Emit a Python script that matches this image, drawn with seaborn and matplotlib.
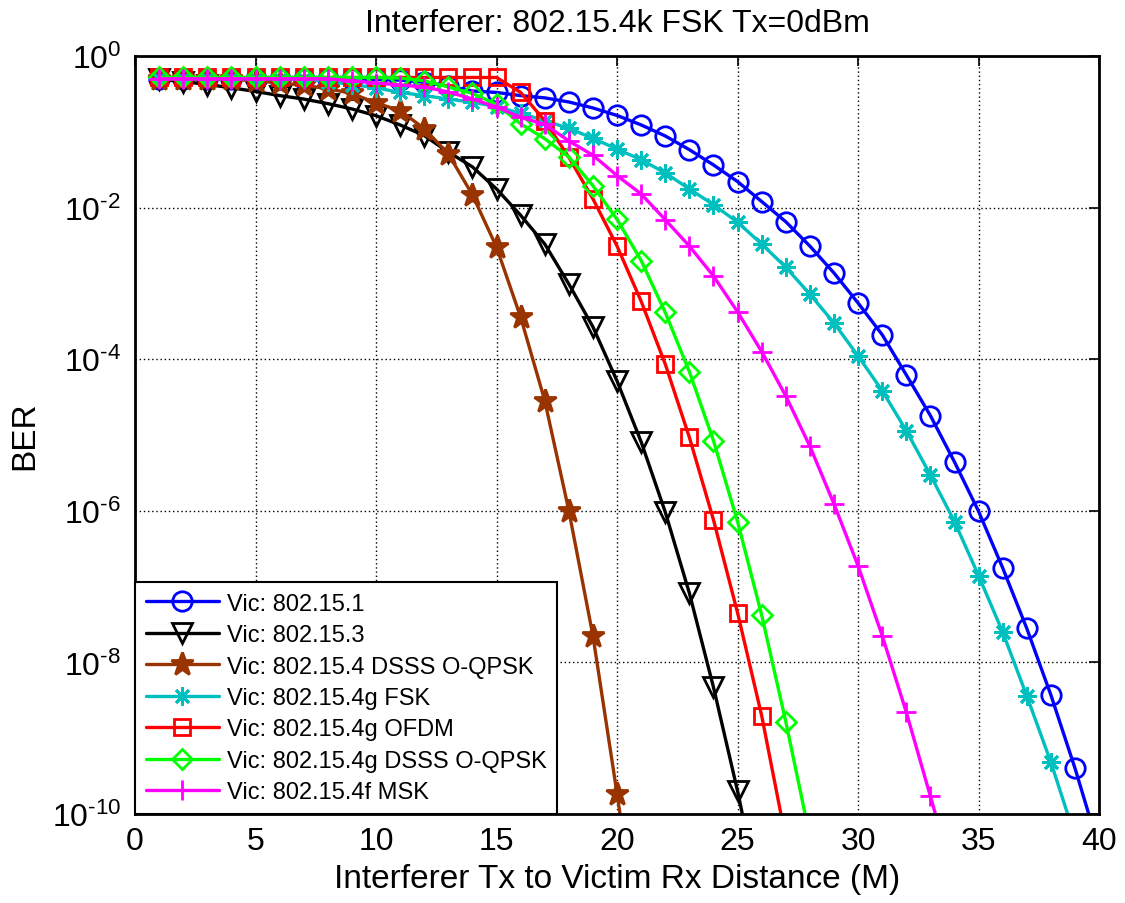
import numpy as np
import seaborn as sns
import matplotlib.pyplot as plt
from matplotlib.ticker import FixedLocator, FixedFormatter, NullLocator

# distance (m), one point per metre
dist = list(range(1, 41))

# BER curves
ber_15_1 = [0.50, 0.50, 0.50, 0.50, 0.50, 0.50, 0.50, 0.50, 0.50, 0.49, 0.48, 0.45,
            0.40, 0.345, 0.33, 0.30, 0.28, 0.247, 0.206, 0.164, 0.123, 0.088, 0.058,
            0.0365, 0.022, 0.012, 0.0065, 0.0031, 1.37e-3, 5.5e-4, 2.1e-4, 6.2e-5,
            1.8e-5, 4.4e-6, 9.8e-7, 1.76e-7, 2.8e-8, 3.7e-9, 4.0e-10, 3.5e-11]
ber_15_3 = [0.49, 0.46, 0.42, 0.38, 0.34, 0.30, 0.27, 0.235, 0.20, 0.163, 0.123,
            0.089, 0.054, 0.0344, 0.0176, 0.0079, 0.0033, 9.8e-4, 2.66e-4, 5.15e-5,
            8.1e-6, 9.6e-7, 8.2e-8, 4.7e-9, 2.0e-10, 6e-12]
ber_15_4 = [0.49, 0.49, 0.49, 0.49, 0.47, 0.44, 0.41, 0.37, 0.32, 0.24, 0.19, 0.11,
            0.051, 0.0147, 3.0e-3, 3.57e-4, 2.84e-5, 1.0e-6, 2.23e-8, 1.84e-10, 1.3e-12]
ber_15_4g_fsk = [0.50, 0.50, 0.50, 0.50, 0.50, 0.50, 0.50, 0.46, 0.42, 0.38, 0.33,
                 0.30, 0.27, 0.245, 0.215, 0.175, 0.14, 0.111, 0.082, 0.059, 0.0428,
                 0.0286, 0.0176, 0.0109, 6.4e-3, 3.3e-3, 1.63e-3, 7.2e-4, 3.0e-4,
                 1.1e-4, 3.84e-5, 1.14e-5, 2.96e-6, 7.2e-7, 1.39e-7, 2.5e-8, 3.6e-9,
                 4.8e-10, 5e-11]
ber_15_4g_ofdm = [0.52, 0.52, 0.52, 0.52, 0.52, 0.52, 0.52, 0.52, 0.52, 0.52, 0.52,
                  0.52, 0.52, 0.52, 0.52, 0.33, 0.14, 0.046, 0.013, 3.1e-3, 5.8e-4,
                  8.6e-5, 9.3e-6, 7.6e-7, 4.5e-8, 1.98e-9, 4.7e-11]
ber_15_4g_dsss = [0.52, 0.52, 0.52, 0.52, 0.52, 0.52, 0.52, 0.52, 0.52, 0.52, 0.51,
                  0.47, 0.39, 0.32, 0.23, 0.127, 0.081, 0.0465, 0.0194, 6.96e-3,
                  2.0e-3, 4.13e-4, 6.84e-5, 8.4e-6, 7.2e-7, 4.2e-8, 1.65e-9, 5e-11]
ber_15_4f_msk = [0.50, 0.50, 0.50, 0.50, 0.50, 0.50, 0.50, 0.50, 0.47, 0.44, 0.414,
                 0.39, 0.335, 0.27, 0.212, 0.155, 0.125, 0.0757, 0.049, 0.0264,
                 0.0151, 6.9e-3, 3.1e-3, 1.25e-3, 4.2e-4, 1.26e-4, 3.27e-5, 7.1e-6,
                 1.23e-6, 1.87e-7, 2.25e-8, 2.2e-9, 1.71e-10, 1.3e-11]

labels = ["Vic: 802.15.1", "Vic: 802.15.3", "Vic: 802.15.4 DSSS O-QPSK",
          "Vic: 802.15.4g FSK", "Vic: 802.15.4g OFDM", "Vic: 802.15.4g DSSS O-QPSK",
          "Vic: 802.15.4f MSK"]
series = [ber_15_1, ber_15_3, ber_15_4, ber_15_4g_fsk, ber_15_4g_ofdm,
          ber_15_4g_dsss, ber_15_4f_msk]

colors = ["#0000ff", "#000000", "#993300", "#00bfbf", "#ff0000", "#00ff00", "#ff00ff"]
markers = ["o", "v", "*", (8, 2, 0), "s", "D", "+"]
msizes = [14, 15, 17, 13, 11.5, 10, 14]
filled = [False, False, True, False, False, False, False]

yticks = [1e0, 1e-2, 1e-4, 1e-6, 1e-8, 1e-10]
ytick_labels = [r"$\mathregular{10^{0}}$", r"$\mathregular{10^{\text{-}2}}$",
                r"$\mathregular{10^{\text{-}4}}$", r"$\mathregular{10^{\text{-}6}}$",
                r"$\mathregular{10^{\text{-}8}}$", r"$\mathregular{10^{\text{-}10}}$"]

sns.set_theme(style="white")
plt.rcParams["font.family"] = ["Liberation Sans", "DejaVu Sans"]
plt.rcParams["mathtext.fontset"] = "custom"
plt.rcParams["mathtext.rm"] = "Liberation Sans"
plt.rcParams["mathtext.it"] = "Liberation Sans:italic"
plt.rcParams["text.color"] = "black"
plt.rcParams["axes.labelcolor"] = "black"

fig = plt.figure(figsize=(11.25, 9.04), dpi=100)
ax = fig.add_axes([0.12, 0.0985, 0.857, 0.8385])

for ber, lab, c, m, ms, f in zip(series, labels, colors, markers, msizes, filled):
    sns.lineplot(x=dist[:len(ber)], y=ber, ax=ax, color=c, marker=m, markersize=ms,
                 markerfacecolor=c if f else "none", markeredgecolor=c,
                 markeredgewidth=2, linewidth=2.4, label=lab, errorbar=None,
                 estimator=None)

ax.set_yscale("log")
ax.set_xlim(0, 40)
ax.set_ylim(1e-10, 1)
ax.set_xticks(range(0, 41, 5))
ax.yaxis.set_major_locator(FixedLocator(yticks))
ax.yaxis.set_major_formatter(FixedFormatter(ytick_labels))
ax.yaxis.set_minor_locator(NullLocator())
ax.tick_params(axis="both", which="major", direction="in", length=7, width=1.2,
               top=True, right=True, labelsize=23, colors="black")
ax.tick_params(axis="x", pad=9)
ax.tick_params(axis="y", pad=10)
ax.grid(True, which="major", color="black", linestyle=(0, (1, 2)), linewidth=1)
for s in ax.spines.values():
    s.set_color("black")
    s.set_linewidth(2)

ax.set_title("Interferer: 802.15.4k FSK Tx=0dBm", fontsize=23, pad=18)
ax.set_xlabel("Interferer Tx to Victim Rx Distance (M)", fontsize=24, labelpad=5)
ax.set_ylabel("BER", fontsize=24, labelpad=8)

leg = ax.legend(loc="lower left", borderaxespad=0, fontsize=17, handlelength=3.1,
                handletextpad=0.35, labelspacing=0.4, fancybox=False, framealpha=1,
                edgecolor="black", borderpad=0.45)
leg.get_frame().set_linewidth(1.5)

fig.savefig("out.png", dpi=100)
